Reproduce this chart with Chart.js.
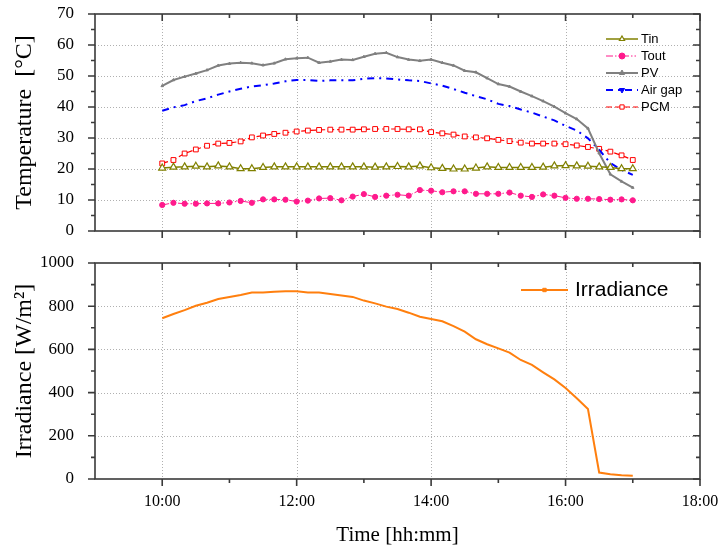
<!DOCTYPE html>
<html>
<head>
<meta charset="utf-8">
<script src="https://cdn.jsdelivr.net/npm/chart.js@4.4.0/dist/chart.umd.min.js"></script>
<style>
  body { margin: 0; background: #fff; }
  #wrap { position: relative; width: 719px; height: 546px; }
  canvas { position: absolute; left: 0; }
  #tempChart { top: 0; }
  #irrChart { top: 246px; }
</style>
</head>
<body>
<div id="wrap">
  <canvas id="tempChart" width="719" height="246"></canvas>
  <canvas id="irrChart" width="719" height="300"></canvas>
</div>
<script>
// measurement times (every 10 min)
var times = ['10:00', '10:10', '10:20', '10:30', '10:40', '10:50',
  '11:00', '11:10', '11:20', '11:30', '11:40', '11:50',
  '12:00', '12:10', '12:20', '12:30', '12:40', '12:50',
  '13:00', '13:10', '13:20', '13:30', '13:40', '13:50',
  '14:00', '14:10', '14:20', '14:30', '14:40', '14:50',
  '15:00', '15:10', '15:20', '15:30', '15:40', '15:50',
  '16:00', '16:10', '16:20', '16:30', '16:40', '16:50', '17:00'];

// temperatures [°C]
var tin = [20.3, 20.6, 20.7, 20.9, 20.7, 21.0, 20.7, 20.1, 20.1, 20.5, 20.7, 20.7,
  20.7, 20.7, 20.7, 20.7, 20.7, 20.7, 20.7, 20.6, 20.7, 20.8, 20.7, 21.0,
  20.4, 20.2, 20.0, 20.0, 20.3, 20.7, 20.5, 20.5, 20.5, 20.5, 20.6, 21.0,
  21.1, 21.0, 20.9, 20.7, 20.5, 20.1, 20.1];
var tout = [8.4, 9.1, 8.8, 8.8, 8.9, 8.9, 9.2, 9.7, 9.1, 10.2, 10.2, 10.1,
  9.5, 9.8, 10.5, 10.6, 9.9, 11.1, 11.9, 11.0, 11.4, 11.7, 11.4, 13.2,
  13.0, 12.5, 12.8, 12.8, 12.0, 12.0, 12.0, 12.4, 11.4, 11.0, 11.8, 11.4,
  10.7, 10.4, 10.4, 10.3, 10.1, 10.2, 9.9];
var pv = [46.8, 48.7, 49.8, 50.8, 51.9, 53.4, 54.0, 54.3, 54.1, 53.5, 54.1, 55.4,
  55.7, 55.9, 54.3, 54.7, 55.3, 55.2, 56.2, 57.2, 57.5, 56.1, 55.3, 54.9,
  55.3, 54.3, 53.4, 51.7, 51.2, 49.3, 47.4, 46.6, 45.0, 43.5, 41.9, 40.1,
  38.0, 36.1, 33.1, 25.1, 18.3, 16.0, 14.0];
var airGap = [38.8, 39.9, 40.6, 41.9, 42.8, 44.0, 45.0, 45.9, 46.6, 47.0, 47.6, 48.3,
  48.7, 48.7, 48.4, 48.6, 48.6, 48.6, 49.1, 49.3, 49.2, 48.9, 48.6, 48.4,
  47.6, 46.9, 45.8, 44.6, 43.5, 42.5, 41.0, 40.3, 39.2, 38.2, 36.9, 35.7,
  33.9, 32.4, 29.9, 26.2, 21.9, 19.7, 18.1];
var pcm = [21.8, 22.9, 25.0, 26.3, 27.5, 28.2, 28.4, 28.9, 30.2, 30.8, 31.3, 31.7,
  32.1, 32.4, 32.6, 32.7, 32.7, 32.7, 32.8, 32.9, 32.9, 32.9, 32.8, 32.8,
  31.9, 31.5, 31.1, 30.5, 30.2, 29.9, 29.4, 29.0, 28.5, 28.2, 28.2, 28.2,
  28.0, 27.6, 27.1, 26.5, 25.6, 24.4, 22.9];

// solar irradiance [W/m2]
var irradiance = [744, 764, 782, 802, 816, 833, 843, 852, 863, 864, 867, 869,
  869, 864, 863, 857, 850, 843, 826, 813, 798, 787, 770, 751,
  741, 730, 708, 682, 647, 624, 605, 585, 551, 528, 494, 461,
  421, 374, 324, 30, 22, 17, 15];

// axis tick labels
var timeTicks = ['10:00', '12:00', '14:00', '16:00', '18:00'];
var tempTicks = [0, 10, 20, 30, 40, 50, 60, 70];
var irrTicks = [0, 200, 400, 600, 800, 1000];

var serif = '"Liberation Serif", "Times New Roman", serif';
var sans = '"Liberation Sans", Arial, sans-serif';

function toHours(t) {
  var p = t.split(':');
  return +p[0] + (+p[1]) / 60;
}
function pts(values) {
  return values.map(function (v, i) { return { x: toHours(times[i]), y: v }; });
}
function fmtTime(h) {
  var hh = Math.floor(h), mm = Math.round((h - hh) * 60);
  return hh + ':' + (mm < 10 ? '0' : '') + mm;
}

// dotted grid at the major ticks (inside the frame only)
var dottedGrid = {
  id: 'dottedGrid',
  beforeDatasetsDraw: function (chart) {
    var ctx = chart.ctx, a = chart.chartArea;
    var xs = chart.scales.x, ys = chart.scales.y;
    ctx.save();
    ctx.strokeStyle = '#b0b0b0';
    ctx.lineWidth = 1;
    ctx.setLineDash([1, 2]);
    ctx.beginPath();
    xs.ticks.forEach(function (t) {
      if (t.value <= xs.min || t.value >= xs.max) return;
      var px = Math.round(xs.getPixelForValue(t.value)) + 0.5;
      ctx.moveTo(px, a.top); ctx.lineTo(px, a.bottom);
    });
    ys.ticks.forEach(function (t) {
      if (t.value <= ys.min || t.value >= ys.max) return;
      var py = Math.round(ys.getPixelForValue(t.value)) + 0.5;
      ctx.moveTo(a.left, py); ctx.lineTo(a.right, py);
    });
    ctx.stroke();
    ctx.restore();
  }
};

// frame + Origin-like ticks (out on left/bottom, in on right/top)
var frameTicks = {
  id: 'frameTicks',
  afterDraw: function (chart) {
    var ctx = chart.ctx, a = chart.chartArea;
    var xs = chart.scales.x, ys = chart.scales.y;
    var big = 7, small = 4;
    ctx.save();
    ctx.strokeStyle = '#3a3a3a';
    ctx.lineWidth = 1.6;
    ctx.strokeRect(a.left, a.top, a.right - a.left, a.bottom - a.top);

    function withMinor(scale) {
      var vals = scale.ticks.map(function (t) { return t.value; });
      var step = vals[1] - vals[0];
      var out = [];
      vals.forEach(function (v) { out.push([v, big]); });
      for (var v = vals[0] - step / 2; v < scale.max; v += step) {
        if (v > scale.min && v < scale.max) out.push([v, small]);
      }
      return out;
    }
    ctx.beginPath();
    withMinor(xs).forEach(function (t) {
      var px = xs.getPixelForValue(t[0]);
      ctx.moveTo(px, a.bottom); ctx.lineTo(px, a.bottom + t[1]);
      ctx.moveTo(px, a.top); ctx.lineTo(px, a.top + t[1]);
    });
    withMinor(ys).forEach(function (t) {
      var py = ys.getPixelForValue(t[0]);
      ctx.moveTo(a.left, py); ctx.lineTo(a.left - t[1], py);
      ctx.moveTo(a.right, py); ctx.lineTo(a.right - t[1], py);
    });
    ctx.stroke();
    ctx.restore();
  }
};

// legend drawn inside the plot
var boxLegend = {
  id: 'boxLegend',
  afterDraw: function (chart, args, opts) {
    var ctx = chart.ctx;
    ctx.save();
    chart.data.datasets.forEach(function (ds, i) {
      var y = opts.y + i * opts.rowH;
      var x0 = opts.x, x1 = opts.x + opts.lineLen;
      ctx.strokeStyle = ds.borderColor;
      ctx.lineWidth = ds.borderWidth;
      ctx.setLineDash(ds.borderDash || []);
      ctx.beginPath();
      ctx.moveTo(x0, y); ctx.lineTo(x1, y);
      ctx.stroke();
      ctx.setLineDash([]);
      ctx.fillStyle = ds.pointBackgroundColor;
      ctx.strokeStyle = ds.borderColor;
      ctx.lineWidth = ds.pointBorderWidth;
      Chart.helpers.drawPoint(ctx, {
        pointStyle: ds.pointStyle, rotation: ds.pointRotation || 0,
        radius: opts.markerR ? opts.markerR : ds.pointRadius, borderWidth: ds.pointBorderWidth
      }, (x0 + x1) / 2, y);
      ctx.fillStyle = '#000';
      ctx.font = opts.fontSize + 'px ' + sans;
      ctx.textBaseline = 'middle';
      ctx.textAlign = 'left';
      ctx.fillText(ds.label, x1 + opts.gap, y);
    });
    ctx.restore();
  }
};

function xAxis(showLabels, height) {
  return {
    type: 'linear', min: 9, max: 18,
    afterBuildTicks: function (s) { s.ticks = timeTicks.map(function (t) { return { value: toHours(t) }; }); },
    afterFit: function (s) { s.height = height; s.paddingLeft = 0; s.paddingRight = 0; },
    border: { display: false },
    grid: { display: false },
    ticks: {
      display: showLabels, padding: 5, color: '#000',
      font: { family: serif, size: 16 },
      maxRotation: 0,
      callback: function (v) { return fmtTime(v); }
    },
    title: {
      display: showLabels, text: 'Time [hh:mm]', color: '#000',
      font: { family: serif, size: 21 }, padding: { top: 0, bottom: -2 }
    }
  };
}
function yAxis(min, max, tickVals, titleText) {
  return {
    min: min, max: max,
    afterBuildTicks: function (s) { s.ticks = tickVals.map(function (v) { return { value: v }; }); },
    afterFit: function (s) { s.width = 95; s.paddingTop = 0; s.paddingBottom = 0; },
    border: { display: false },
    grid: { display: false },
    ticks: {
      padding: 13, color: '#000', font: { family: serif, size: 17 },
      callback: function (v) { return String(v); }
    },
    title: {
      display: true, text: titleText, color: '#000',
      font: { family: serif, size: 24 }, padding: { top: 10, bottom: 0 }
    }
  };
}

var tempChart = new Chart(document.getElementById('tempChart'), {
  type: 'line',
  data: {
    datasets: [
      {
        label: 'Tin', data: pts(tin), borderColor: '#808000', borderWidth: 1.5,
        pointStyle: 'triangle', pointRadius: 4, pointBorderWidth: 1.2,
        pointBackgroundColor: '#fff', pointBorderColor: '#808000'
      },
      {
        label: 'Tout', data: pts(tout), borderColor: '#ff1a8c', borderWidth: 1,
        borderDash: [7, 2, 1.5, 2, 1.5, 2],
        pointStyle: 'circle', pointRadius: 2.6, pointBorderWidth: 1,
        pointBackgroundColor: '#ff1a8c', pointBorderColor: '#ff1a8c'
      },
      {
        label: 'PV', data: pts(pv), borderColor: '#808080', borderWidth: 2,
        pointStyle: 'triangle', pointRadius: 1.5, pointBorderWidth: 1,
        pointBackgroundColor: '#808080', pointBorderColor: '#808080'
      },
      {
        label: 'Air gap', data: pts(airGap), borderColor: '#0000ff', borderWidth: 2,
        borderDash: [7, 5, 2, 5],
        pointStyle: 'triangle', pointRotation: 180, pointRadius: 0, pointBorderWidth: 1,
        pointBackgroundColor: '#0000ff', pointBorderColor: '#0000ff'
      },
      {
        label: 'PCM', data: pts(pcm), borderColor: '#ff0000', borderWidth: 1.2,
        borderDash: [6, 3],
        pointStyle: 'rect', pointRadius: 3.4, pointBorderWidth: 1,
        pointBackgroundColor: '#fff', pointBorderColor: '#ff0000'
      }
    ]
  },
  options: {
    responsive: false, animation: false,
    layout: { padding: { top: 14, right: 19, left: 0, bottom: 0 } },
    scales: { x: xAxis(false, 15), y: yAxis(0, 70, tempTicks, 'Temperature  [°C]') },
    plugins: {
      legend: { display: false }, tooltip: { enabled: false },
      boxLegend: { x: 606, y: 39, rowH: 17, lineLen: 32, gap: 3, fontSize: 13, markerR: 3 }
    }
  },
  plugins: [dottedGrid, frameTicks, boxLegend]
});

var irrChart = new Chart(document.getElementById('irrChart'), {
  type: 'line',
  data: {
    datasets: [
      {
        label: 'Irradiance', data: pts(irradiance), borderColor: '#ff7f0e', borderWidth: 2,
        pointStyle: 'rect', pointRadius: 0, pointBorderWidth: 1,
        pointBackgroundColor: '#ff7f0e', pointBorderColor: '#ff7f0e'
      }
    ]
  },
  options: {
    responsive: false, animation: false,
    layout: { padding: { top: 17, right: 19, left: 0, bottom: 0 } },
    scales: { x: xAxis(true, 67), y: yAxis(0, 1000, irrTicks, 'Irradiance [W/m²]') },
    plugins: {
      legend: { display: false }, tooltip: { enabled: false },
      boxLegend: { x: 521, y: 44, rowH: 20, lineLen: 47, gap: 7, fontSize: 21, markerR: 2.4 }
    }
  },
  plugins: [dottedGrid, frameTicks, boxLegend]
});
</script>
</body>
</html>
